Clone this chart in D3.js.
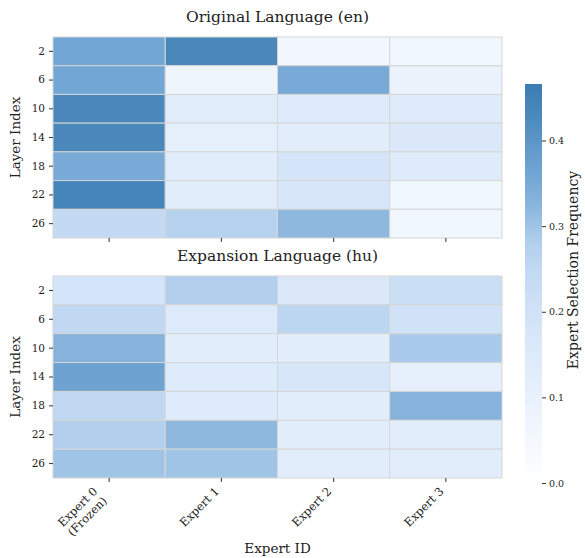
<!DOCTYPE html>
<html>
<head>
<meta charset="utf-8">
<script src="https://cdn.jsdelivr.net/npm/d3@7"></script>
<style>
  body { margin: 0; background: #fff; }
  svg text { font-family: "DejaVu Serif", serif; fill: #222; }
</style>
</head>
<body>
<svg id="chart"></svg>
<script>
const layers = [2, 6, 10, 14, 18, 22, 26];
const experts = ["Expert 0\n(Frozen)", "Expert 1", "Expert 2", "Expert 3"];

// rows = layers, columns = experts
const enValues = [
    [0.36, 0.43, 0.05, 0.06],
    [0.36, 0.07, 0.35, 0.09],
    [0.43, 0.13, 0.14, 0.14],
    [0.43, 0.11, 0.13, 0.16],
    [0.35, 0.13, 0.18, 0.14],
    [0.44, 0.13, 0.17, 0.06],
    [0.24, 0.27, 0.32, 0.06]
];
const huValues = [
    [0.18, 0.28, 0.16, 0.22],
    [0.25, 0.15, 0.26, 0.20],
    [0.33, 0.12, 0.12, 0.29],
    [0.37, 0.14, 0.17, 0.11],
    [0.25, 0.14, 0.13, 0.33],
    [0.28, 0.32, 0.13, 0.13],
    [0.30, 0.30, 0.13, 0.13]
];
const cbTicks = [0.0, 0.1, 0.2, 0.3, 0.4];
const vmax = 0.466;

// colour stops
const cmapStops = [0, 0.05, 0.1, 0.15, 0.2, 0.25, 0.28, 0.3, 0.33, 0.36, 0.4, 0.43, 0.466];
const cmapColors = ["#ffffff", "#f3f8fe", "#e8f1fc", "#dceafb", "#d0e2f7", "#c1d8f2", "#b2cfed",
    "#a0c4e6", "#86b2dc", "#72a6d4", "#5c95c7", "#4a88bc", "#3d7cb2"];

const svg_width = 585, svg_height = 558;
const svg = d3.select("#chart").attr("width", svg_width).attr("height", svg_height);

const color = d3.scaleLinear().domain(cmapStops).range(cmapColors).clamp(true);

const left = 53, right = 502;
const x = d3.scaleBand().domain(d3.range(experts.length)).range([left, right]);

const panels = [
    { title: "Original Language (en)", data: enValues, top: 37, bottom: 238, labels: false },
    { title: "Expansion Language (hu)", data: huValues, top: 276, bottom: 478, labels: true }
];

panels.forEach(p => {
    const y = d3.scaleBand().domain(layers).range([p.top, p.bottom]);
    const g = svg.append("g");

    const cells = [];
    p.data.forEach((row, i) => row.forEach((v, j) => cells.push({ layer: layers[i], e: j, v })));

    g.selectAll("rect.cell")
        .data(cells)
        .enter()
        .append("rect")
        .attr("class", "cell")
        .attr("x", d => x(d.e))
        .attr("y", d => y(d.layer))
        .attr("width", x.bandwidth())
        .attr("height", y.bandwidth())
        .attr("fill", d => color(d.v))
        .attr("stroke", "#d6d6d6")
        .attr("stroke-width", 1);

    // y axis
    const yAxis = g.append("g")
        .attr("transform", `translate(${left},0)`)
        .call(d3.axisLeft(y).tickSize(4).tickPadding(4));
    yAxis.select(".domain").remove();
    yAxis.selectAll("line").attr("stroke", "#333");
    yAxis.selectAll("text").attr("font-size", 10.5).attr("font-family", "DejaVu Serif").attr("fill", "#222");

    g.append("text")
        .attr("transform", `translate(20,${(p.top + p.bottom) / 2}) rotate(-90)`)
        .attr("text-anchor", "middle")
        .attr("font-size", 13.5)
        .text("Layer Index");

    // x ticks
    const xAxis = g.append("g")
        .attr("transform", `translate(0,${p.bottom})`)
        .call(d3.axisBottom(x).tickSize(4).tickFormat(""));
    xAxis.select(".domain").remove();
    xAxis.selectAll("line").attr("stroke", "#333");

    if (p.labels) {
        const lh = 13.5;
        experts.forEach((lab, j) => {
            const lines = lab.split("\n");
            const cx = x(j) + x.bandwidth() / 2;
            const t = svg.append("g")
                .attr("transform", `translate(${cx - lines.length * lh * 0.707 + 1},${p.bottom + 7}) rotate(-45)`)
                .append("text")
                .attr("text-anchor", "end")
                .attr("font-size", 11.5);
            t.selectAll("tspan")
                .data(lines)
                .enter()
                .append("tspan")
                .attr("x", 0)
                .attr("y", (d, i) => 10 + i * lh)
                .text(d => d);
        });
    }

    svg.append("text")
        .attr("x", (left + right) / 2)
        .attr("y", p.top - 15)
        .attr("text-anchor", "middle")
        .attr("font-size", 15.5)
        .text(p.title);
});

svg.append("text")
    .attr("x", (left + right) / 2)
    .attr("y", 553)
    .attr("text-anchor", "middle")
    .attr("font-size", 13.5)
    .text("Expert ID");

// colorbar
const cbX = 525, cbW = 17, cbTop = 84, cbBottom = 483;
const cbScale = d3.scaleLinear().domain([0, vmax]).range([cbBottom, cbTop]);
const defs = svg.append("defs");
const grad = defs.append("linearGradient")
    .attr("id", "cb-grad")
    .attr("x1", "0%").attr("y1", "100%")
    .attr("x2", "0%").attr("y2", "0%");
for (let i = 0; i <= 100; i++) {
    grad.append("stop")
        .attr("offset", `${i}%`)
        .attr("stop-color", color(vmax * i / 100));
}
svg.append("rect")
    .attr("x", cbX)
    .attr("y", cbTop)
    .attr("width", cbW)
    .attr("height", cbBottom - cbTop)
    .style("fill", "url(#cb-grad)");

const cbAxis = svg.append("g")
    .attr("transform", `translate(${cbX + cbW},0)`)
    .call(d3.axisRight(cbScale).tickValues(cbTicks).tickFormat(d3.format(".1f")).tickSize(4).tickPadding(3));
cbAxis.select(".domain").remove();
cbAxis.selectAll("line").attr("stroke", "#333");
cbAxis.selectAll("text").attr("font-size", 9.5).attr("font-family", "DejaVu Serif").attr("fill", "#222");

svg.append("text")
    .attr("transform", `translate(578,270) rotate(-90)`)
    .attr("text-anchor", "middle")
    .attr("font-size", 14)
    .text("Expert Selection Frequency");
</script>
</body>
</html>
